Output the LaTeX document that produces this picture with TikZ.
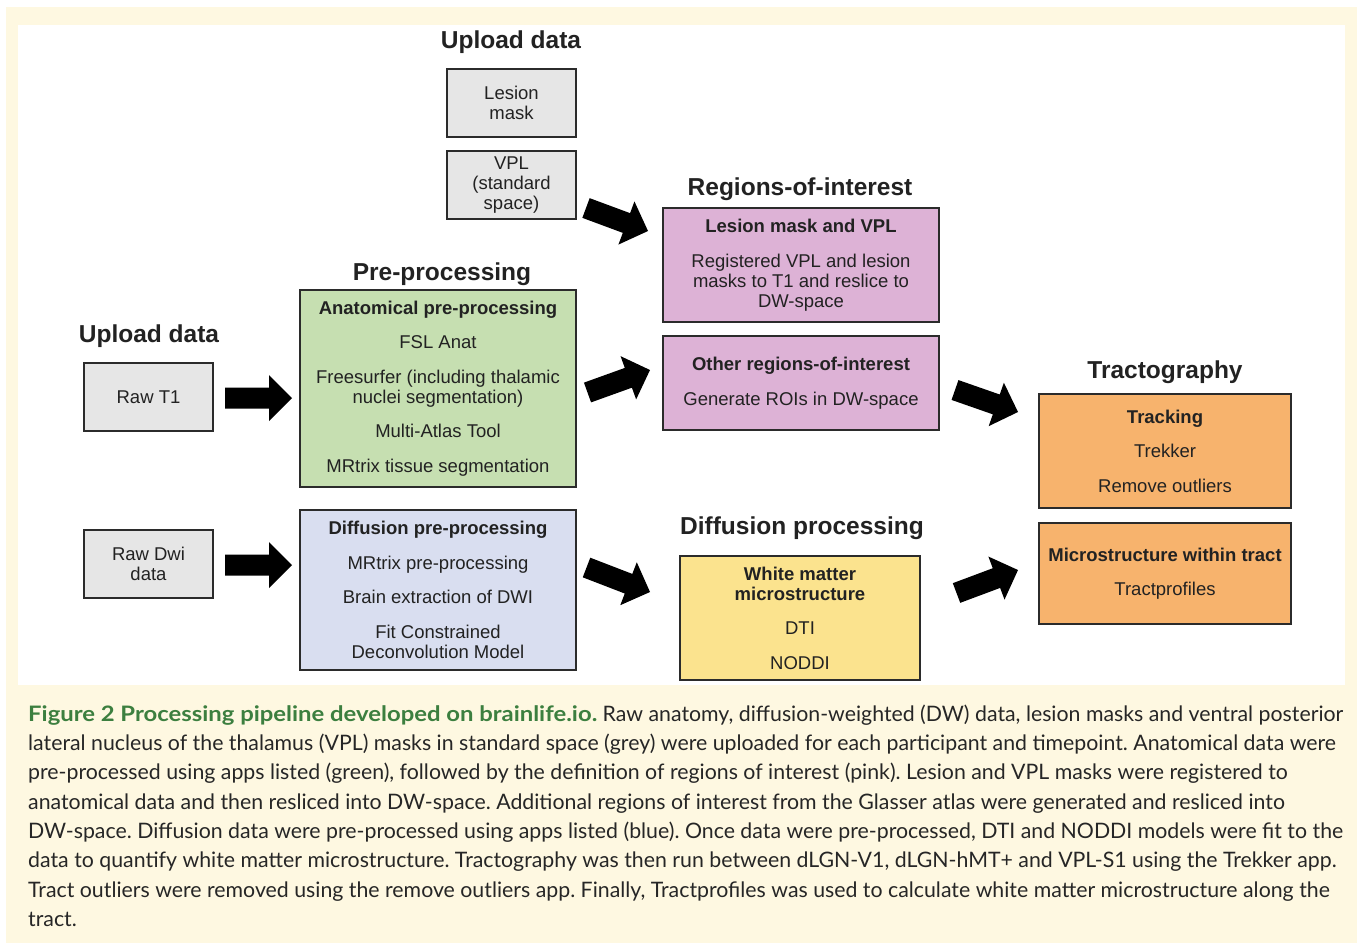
\documentclass[tikz,border=0pt]{standalone}
\usepackage{fontspec}
\setmainfont{Liberation Sans}
\newfontfamily\capfont{Lato}
\usetikzlibrary{calc}
\definecolor{cream}{HTML}{FEF8E1}
\definecolor{greyfill}{HTML}{E6E6E6}
\definecolor{greenfill}{HTML}{C6DFB1}
\definecolor{pinkfill}{HTML}{DDB2D6}
\definecolor{bluefill}{HTML}{D9DEF0}
\definecolor{yellowfill}{HTML}{FBE38E}
\definecolor{orangefill}{HTML}{F7B36D}
\definecolor{boxline}{HTML}{2B2B2B}
\definecolor{textc}{HTML}{222222}
\definecolor{capgreen}{HTML}{3C7F3F}
\definecolor{captext}{HTML}{262626}
\newcommand{\bodyfnt}{\fontsize{18.5}{20}\selectfont}
\newcommand{\headfnt}{\fontsize{24.5}{28}\selectfont\bfseries}
\newcommand{\blockarrow}[2]{%
  \fill[black] let \p1=(#1), \p2=(#2), \n1={atan2(\y2-\y1,\x2-\x1)}, \n2={veclen(\x2-\x1,\y2-\y1)} in
  (#1) ++({\n1+90}:10.5) -- ++({\n1}:{\n2-23}) -- ++({\n1+90}:12.5) -- (#2)
  -- ++({\n1+225}:32.53) -- ++({\n1+90}:12.5) -- ++({\n1+180}:{\n2-23}) -- cycle;}
\begin{document}
\begin{tikzpicture}[x=1pt,y=1pt,
  box/.style={draw=boxline, line width=1.8pt, align=center, text=textc, inner sep=0pt, font=\bodyfnt},
  heading/.style={text=textc, font=\headfnt, inner sep=0pt}]
\useasboundingbox (0,0) rectangle (1357,-943);
\fill[white] (0,0) rectangle (1357,-943);
\fill[cream] (6,-7) rectangle (1357,-943);
\fill[white] (18,-25) rectangle (1345,-685);

% headings
\node[heading] (h1) at (511,-42) {Upload data};
\node[heading] (h2) at (800,-189) {Regions-of-interest};
\node[heading] (h3) at (442,-274) {Pre-processing};
\node[heading] (h4) at (149,-336) {Upload data};
\node[heading] (h5) at (1165,-372) {Tractography};
\node[heading] (h6) at (802,-528) {Diffusion processing};

% grey upload boxes
\node[box, fill=greyfill, minimum width=129, minimum height=68] (lesion) at (511.5,-103) {Lesion\\mask};
\node[box, fill=greyfill, minimum width=129, minimum height=68] (vpl) at (511.5,-185) {VPL\\(standard\\space)};
\node[box, fill=greyfill, minimum width=129, minimum height=68] (rawt1) at (148.5,-397) {Raw T1};
\node[box, fill=greyfill, minimum width=129, minimum height=68] (rawdwi) at (148.5,-564) {Raw Dwi\\data};

% pre-processing
\node[box, fill=greenfill, minimum width=276, minimum height=197] (anat) at (438,-388.5)
  {\textbf{Anatomical pre-processing}\\[14.5pt]FSL Anat\\[14.5pt]Freesurfer (including thalamic\\nuclei segmentation)\\[14.5pt]Multi-Atlas Tool\\[14.5pt]MRtrix tissue segmentation};
\node[box, fill=bluefill, minimum width=276, minimum height=160] (diff) at (438,-590)
  {\textbf{Diffusion pre-processing}\\[14.5pt]MRtrix pre-processing\\[14.5pt]Brain extraction of DWI\\[14.5pt]Fit Constrained\\Deconvolution Model};

% regions of interest
\node[box, fill=pinkfill, minimum width=276, minimum height=114] (roi1) at (801,-265)
  {\textbf{Lesion mask and VPL}\\[14.5pt]Registered VPL and lesion\\masks to T1 and reslice to\\DW-space};
\node[box, fill=pinkfill, minimum width=276, minimum height=94] (roi2) at (801,-383)
  {\raisebox{7pt}{\parbox{270pt}{\centering\textbf{Other regions-of-interest}\\[14.5pt]Generate ROIs in DW-space}}};

% diffusion processing
\node[box, fill=yellowfill, minimum width=240, minimum height=124] (wm) at (800,-618)
  {\raisebox{2pt}{\parbox{236pt}{\centering\textbf{White matter}\\\textbf{microstructure}\\[14.5pt]DTI\\[14.5pt]NODDI}}};

% tractography
\node[box, fill=orangefill, minimum width=252, minimum height=114] (track) at (1165,-451)
  {\textbf{Tracking}\\[14.5pt]Trekker\\[14.5pt]Remove outliers};
\node[box, fill=orangefill, minimum width=252, minimum height=101] (micro) at (1165,-573.5)
  {\textbf{Microstructure within tract}\\[14.5pt]Tractprofiles};

% arrow end points
\coordinate (a1s) at (225,-398);   \coordinate (a1e) at (292,-398);
\coordinate (a2s) at (225,-565);   \coordinate (a2e) at (292,-565);
\coordinate (a3s) at (586,-208);   \coordinate (a3e) at (648,-231);
\coordinate (a4s) at (587.5,-392.5); \coordinate (a4e) at (650,-370);
\coordinate (a5s) at (955,-390);   \coordinate (a5e) at (1018,-412);
\coordinate (a6s) at (586.5,-567.5); \coordinate (a6e) at (650,-592);
\coordinate (a7s) at (956.5,-593); \coordinate (a7e) at (1018,-570);
\blockarrow{a1s}{a1e}
\blockarrow{a2s}{a2e}
\blockarrow{a3s}{a3e}
\blockarrow{a4s}{a4e}
\blockarrow{a5s}{a5e}
\blockarrow{a6s}{a6e}
\blockarrow{a7s}{a7e}

% caption
\node[anchor=north west, inner sep=0pt, align=left, text=captext,
      font=\capfont\fontsize{21.3}{29.3}\selectfont\frenchspacing] (caption) at (28,-704.5)
{{\color{capgreen}\bfseries\addfontfeatures{FakeStretch=1.12}Figure 2 Processing pipeline developed on brainlife.io.} Raw anatomy, diffusion-weighted (DW) data, lesion masks and ventral posterior\\
lateral nucleus of the thalamus (VPL) masks in standard space (grey) were uploaded for each participant and timepoint. Anatomical data were\\
pre-processed using apps listed (green), followed by the definition of regions of interest (pink). Lesion and VPL masks were registered to\\
anatomical data and then resliced into DW-space. Additional regions of interest from the Glasser atlas were generated and resliced into\\
DW-space. Diffusion data were pre-processed using apps listed (blue). Once data were pre-processed, DTI and NODDI models were fit to the\\
data to quantify white matter microstructure. Tractography was then run between dLGN-V1, dLGN-hMT+ and VPL-S1 using the Trekker app.\\
Tract outliers were removed using the remove outliers app. Finally, Tractprofiles was used to calculate white matter microstructure along the\\
tract.};
\end{tikzpicture}
\end{document}
